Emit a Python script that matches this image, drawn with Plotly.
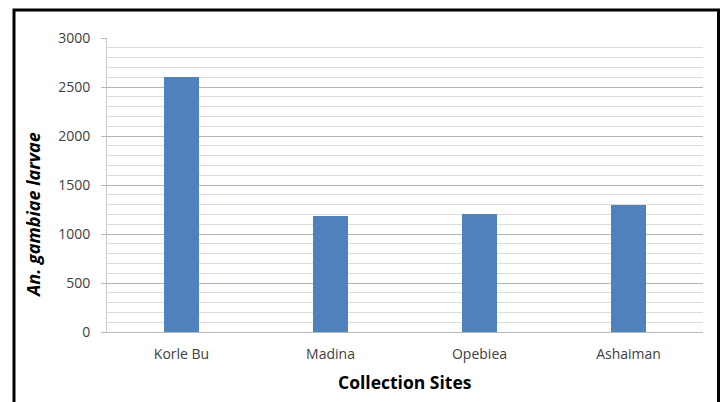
import plotly.graph_objects as go

# Larval counts per collection site
sites = ["Korle Bu", "Madina", "Opebiea", "Ashaiman"]
larvae = [2600, 1185, 1200, 1300]
y_ticks = [0, 500, 1000, 1500, 2000, 2500, 3000]

W, H = 727, 402
L, R, T, B = 107, 24, 38, 70
plot_w = W - L - R
plot_h = H - T - B

fig = go.Figure(
    go.Bar(
        x=sites,
        y=larvae,
        width=0.24,
        marker=dict(color="#4F81BD", line=dict(width=0)),
    )
)

FONT = "Open Sans, Liberation Sans, sans-serif"
tick_font = dict(family=FONT, size=14, color="#404040")

fig.update_layout(
    width=W,
    height=H,
    margin=dict(l=L, r=R, t=T, b=B),
    paper_bgcolor="white",
    plot_bgcolor="white",
    showlegend=False,
    bargap=0,
    xaxis=dict(
        showgrid=False,
        showline=True,
        linecolor="#b8b8b8",
        linewidth=1,
        ticks="",
        tickfont=tick_font,
        ticklabelstandoff=9,
    ),
    yaxis=dict(
        range=[0, 3000],
        tickvals=y_ticks,
        showgrid=True,
        gridcolor="#b4b4b4",
        gridwidth=1,
        showline=True,
        linecolor="#c8c8c8",
        linewidth=1,
        ticks="outside",
        ticklen=5,
        tickcolor="#b4b4b4",
        tickfont=tick_font,
        ticklabelstandoff=8,
        zeroline=False,
        minor=dict(dtick=100, showgrid=True, gridcolor="#dcdcdc", gridwidth=1, ticks=""),
    ),
)

# Pixel -> paper coordinate helpers
def px_x(p):
    return (p - L) / plot_w

def px_y(p):
    return (H - B - p) / plot_h

# Axis titles
fig.add_annotation(
    text="<b>Collection Sites</b>",
    xref="paper", yref="paper",
    x=px_x(405), y=px_y(382),
    xanchor="center", yanchor="middle",
    showarrow=False,
    font=dict(family=FONT, size=17.5, color="#000000"),
)
fig.add_annotation(
    text="<b><i>An. gambiae larvae</i></b>",
    xref="paper", yref="paper",
    x=px_x(33), y=px_y(215),
    xanchor="center", yanchor="middle",
    textangle=-90,
    showarrow=False,
    font=dict(family=FONT, size=18, color="#000000"),
)

# Dark frame around the chart
fig.add_shape(
    type="rect",
    xref="paper", yref="paper",
    x0=px_x(14), x1=px_x(718.5),
    y0=px_y(410), y1=px_y(10),
    line=dict(color="#000000", width=3),
    fillcolor="rgba(0,0,0,0)",
    layer="above",
)

fig.write_html("out.html")
